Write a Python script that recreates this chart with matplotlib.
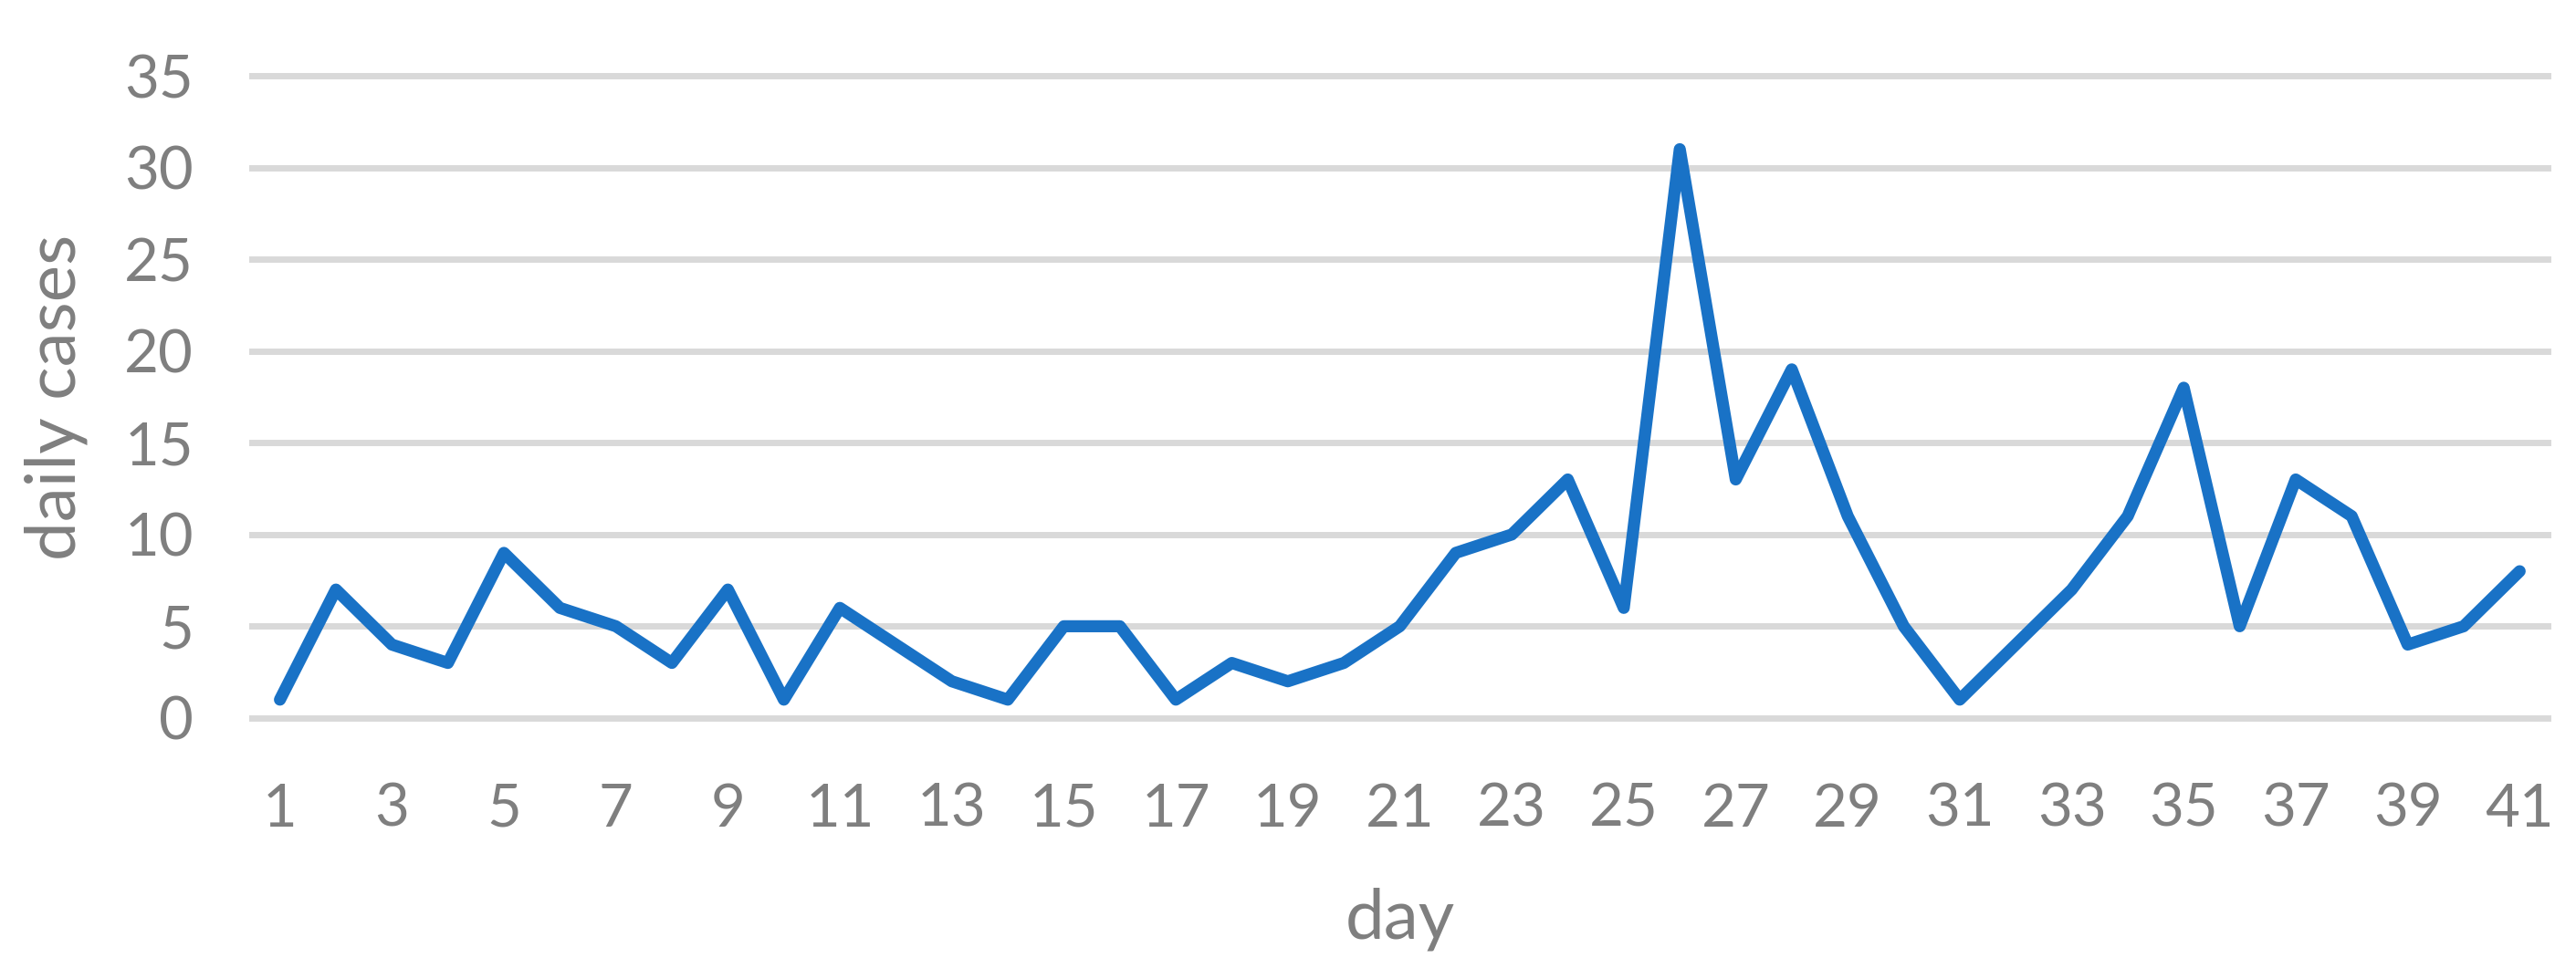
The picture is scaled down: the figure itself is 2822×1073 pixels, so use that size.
import matplotlib
matplotlib.use("Agg")
import matplotlib.pyplot as plt

days = list(range(1, 42))
cases = [1, 7, 4, 3, 9, 6, 5, 3, 7, 1,
         6, 4, 2, 1, 5, 5, 1, 3, 2, 3,
         5, 9, 10, 13, 6, 31, 13, 19, 11, 5,
         1, 4, 7, 11, 18, 5, 13, 11, 4, 5, 8]
x_ticks = list(range(1, 42, 2))
y_ticks = [0, 5, 10, 15, 20, 25, 30, 35]
x_label = "day"
y_label = "daily cases"

GRAY = "#7f7f7f"
plt.rcParams['font.family'] = ['Lato', 'DejaVu Sans']

fig = plt.figure(figsize=(28.22, 10.73), dpi=100)
ax = fig.add_axes([0.0978, 0.2666, 0.8912, 0.6560])

ax.plot(days, cases, color="#1972c6", lw=9.5, solid_joinstyle='round',
        solid_capstyle='round', clip_on=False, zorder=3)

ax.set_xlim(0.5, 41.5)
ax.set_ylim(0, 35)
ax.set_xticks(x_ticks)
ax.set_yticks(y_ticks)
ax.yaxis.grid(True, color="#d9d9d9", lw=5)
ax.set_axisbelow(True)
for g in ax.get_ygridlines():
    g.set_clip_on(False)
for s in ax.spines.values():
    s.set_visible(False)

ax.tick_params(axis='y', length=0, pad=46, labelsize=47, labelcolor=GRAY)
ax.tick_params(axis='x', length=0, pad=51, labelsize=47, labelcolor=GRAY)

ax.set_ylabel(y_label, fontsize=55, color=GRAY)
ax.set_xlabel(x_label, fontsize=55, color=GRAY)
ax.yaxis.label.set_va('center')
ax.xaxis.label.set_va('center')
ax.yaxis.set_label_coords(-0.0855, 0.5)
ax.xaxis.set_label_coords(0.5, -0.3125)

fig.savefig("out.png", dpi=100, facecolor="white")
